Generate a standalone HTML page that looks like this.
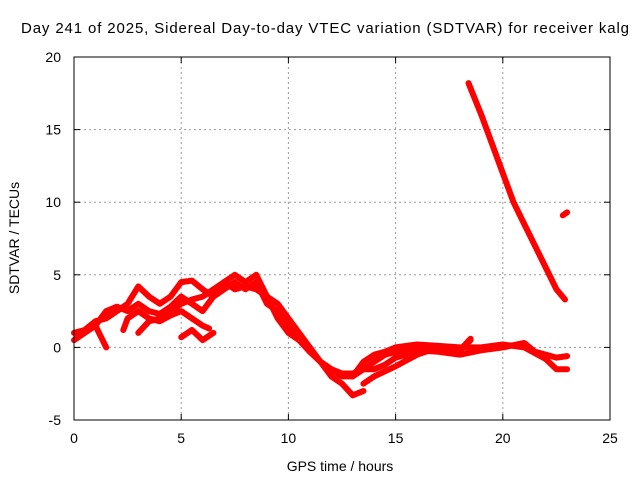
<!DOCTYPE html>
<html><head><meta charset="utf-8"><style>
body{margin:0;background:#fff}
svg{display:block;font-family:"Liberation Sans",sans-serif}
</style></head><body>
<svg id="chart" width="640" height="480">
<rect width="640" height="480" fill="#fff"/>
<text x="325" y="33" font-size="15" text-anchor="middle" textLength="608" lengthAdjust="spacing">Day 241 of 2025, Sidereal Day-to-day VTEC variation (SDTVAR) for receiver kalg</text>
<text x="340" y="471" font-size="14" text-anchor="middle">GPS time / hours</text>
<text transform="translate(19,238) rotate(-90)" font-size="14" text-anchor="middle">SDTVAR / TECUs</text>
<g id="grid"></g><g id="series"></g><g id="axes"></g>
</svg>
<script>
const xTicks=[0,5,10,15,20,25];
const yTicks=[-5,0,5,10,15,20];
const s1T=[0,0.5,1,1.5,2,2.5,3,3.5,4,4.5,5,5.5,6,6.5,7,7.5,8,8.5,9,9.5,10,10.5,11,11.5,12,12.5,13,13.5];
const s1V=[1,1.2,1.8,2,2.5,3,4.2,3.5,3,3.5,4.5,4.6,4,3.5,4.5,5,4.5,5,3.5,3,2,1,0,-1,-2,-2.5,-3.3,-3];
const s2T=[0,0.5,1,1.5];
const s2V=[0.5,1,1.5,0];
const s3T=[1,1.5,2,2.5,3,3.5,4,4.5,5,5.5,6,6.5,7,7.5,8,8.5,9,9.5,10,10.5,11,11.5,12,12.5,13,13.5,14,14.5,15,16,17,18,18.5];
const s3V=[1.5,2.5,2.8,2.5,3,2.5,2.3,2.8,3.5,3,2.5,3.5,4,4.5,4,4.5,3,2.5,1.5,0.5,-0.2,-1,-1.5,-1.8,-1.8,-1.5,-1,-0.5,-0.3,0,0,-0.2,0.5];
const s4T=[2.3,2.5,3,3.5,4,4.5,5,5.5,6,6.3];
const s4V=[1.2,2,2.5,2,1.8,2.2,2.5,2,1.5,1.3];
const s5T=[5,5.5,6,6.5];
const s5V=[0.7,1.2,0.5,1];
const s6T=[3,3.5,4,4.5,5,5.5,6,6.5,7,7.5,8,8.5,9,9.5,10,10.5,11,11.5,12,12.5,13,13.5,14,14.5,15,15.5,16,17,18,19,20,21,21.5,22,22.5,23];
const s6V=[1,1.8,2,2.5,3,3.3,3.5,4,4.5,4,4.2,4,3.5,2,1,0.5,-0.3,-1,-1.5,-2,-2,-1.5,-1.5,-1.2,-0.7,-0.5,-0.2,-0.3,-0.5,-0.2,0,0.3,-0.3,-0.5,-0.7,-0.6];
const s7T=[13,13.5,14,14.5,15,16,17,18,19,20,21,22,22.5,23];
const s7V=[-2,-1,-0.5,-0.3,0,0.2,0.1,0,0,0.2,0,-0.8,-1.5,-1.5];
const s8T=[13.5,14,15,16,17,18,18.5];
const s8V=[-2.5,-2,-1.3,-0.5,0,-0.2,0.6];
const s9T=[18.4,19,19.5,20,20.5,21,21.5,22,22.5,22.9];
const s9V=[18.2,16,14,12,10,8.5,7,5.5,4,3.3];
const s10T=[22.8,23];
const s10V=[9.1,9.3];
const seriesT=[s1T,s2T,s3T,s4T,s5T,s6T,s7T,s8T,s9T,s10T];
const seriesV=[s1V,s2V,s3V,s4V,s5V,s6V,s7V,s8V,s9V,s10V];
const X0=74,X1=610,Y0=420,Y1=57;
const xs=v=>X0+(v-0)/(25-0)*(X1-X0);
const ys=v=>Y0-(v+5)/(20+5)*(Y0-Y1);
const NS="http://www.w3.org/2000/svg";
function mk(tag,attrs,parent){const e=document.createElementNS(NS,tag);for(const k in attrs)e.setAttribute(k,attrs[k]);parent.appendChild(e);return e;}
const grid=document.getElementById('grid'),axes=document.getElementById('axes'),ser=document.getElementById('series');
xTicks.forEach(t=>{
  if(t>0&&t<25){const l=mk('line',{x1:xs(t),x2:xs(t),y1:Y1,y2:Y0,stroke:'#999','stroke-dasharray':'2,3'},grid);
  
  }
  mk('line',{x1:xs(t),x2:xs(t),y1:Y0,y2:Y0-6,stroke:'#000'},axes);
  mk('line',{x1:xs(t),x2:xs(t),y1:Y1,y2:Y1+6,stroke:'#000'},axes);
  const tx=mk('text',{x:xs(t),y:Y0+23,'font-size':14,'text-anchor':'middle'},axes);tx.textContent=t;
  
  
});
yTicks.forEach(t=>{
  if(t>-5&&t<20){const l=mk('line',{x1:X0,x2:X1,y1:ys(t),y2:ys(t),stroke:'#999','stroke-dasharray':'2,3'},grid);
  
  }
  mk('line',{x1:X0,x2:X0+6,y1:ys(t),y2:ys(t),stroke:'#000'},axes);
  mk('line',{x1:X1,x2:X1-6,y1:ys(t),y2:ys(t),stroke:'#000'},axes);
  const tx=mk('text',{x:X0-13,y:ys(t)+5,'font-size':14,'text-anchor':'end'},axes);tx.textContent=t;
  
  
});
const fr=mk('rect',{x:X0,y:Y1,width:X1-X0,height:Y0-Y1,fill:'none',stroke:'#000'},axes);


seriesT.forEach((T,i)=>{
  const V=seriesV[i];
  const pts=T.map((t,j)=>xs(t).toFixed(1)+','+ys(V[j]).toFixed(1)).join(' ');
  const p=mk('polyline',{points:pts,fill:'none',stroke:'#f00','stroke-width':6,'stroke-linejoin':'round','stroke-linecap':'round'},ser);
  
  
});
</script>
</body></html>
